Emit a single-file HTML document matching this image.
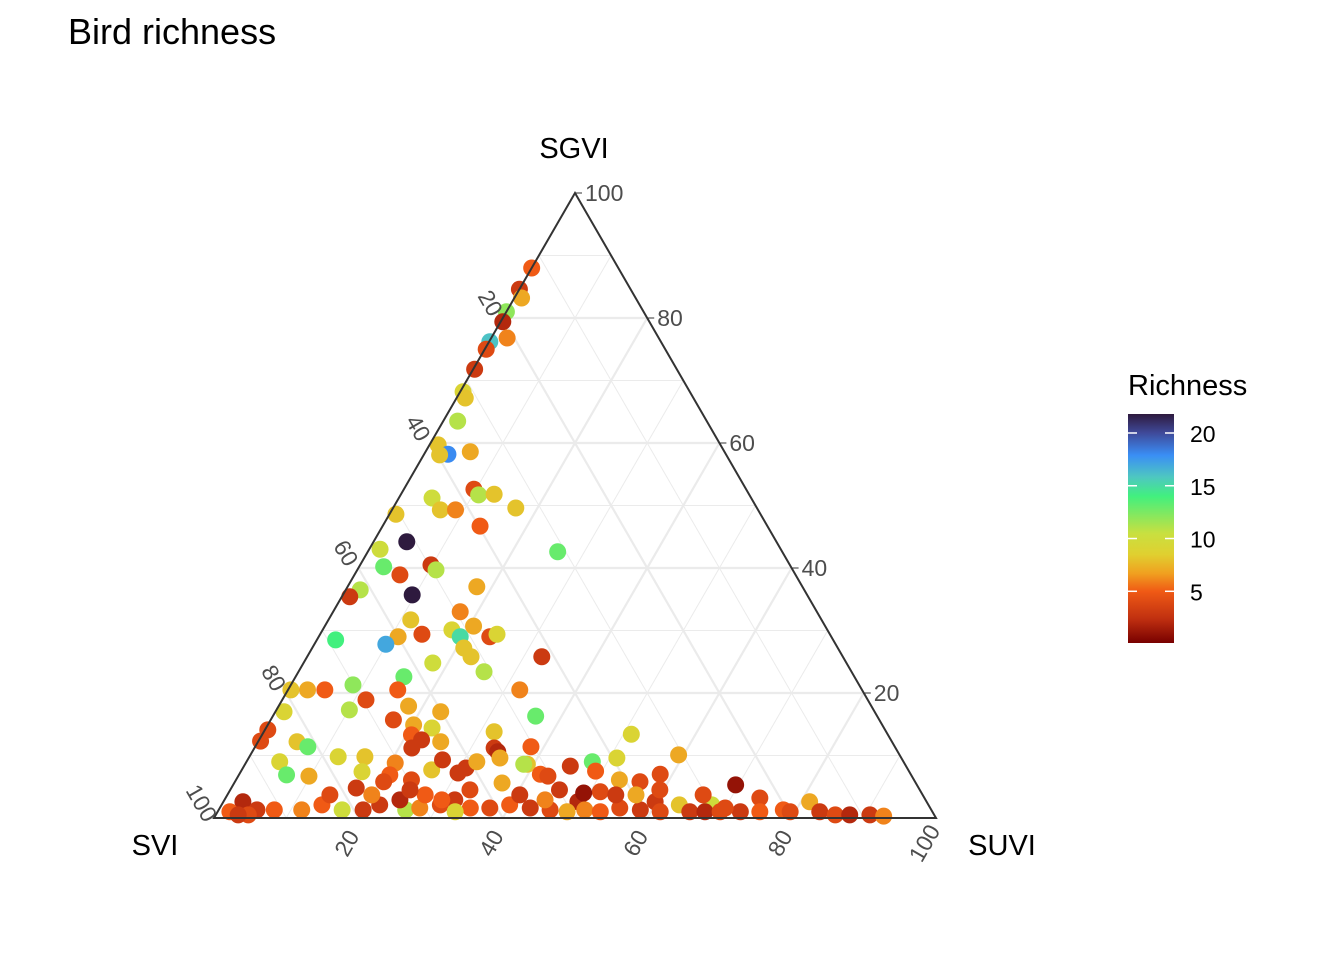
<!DOCTYPE html>
<html><head><meta charset="utf-8"><style>
body{margin:0;background:#fff;}
svg text{font-family:"Liberation Sans",Arial,sans-serif;}
</style></head><body>
<svg id="chart" width="1344" height="960" viewBox="0 0 1344 960" xmlns="http://www.w3.org/2000/svg">
<rect width="1344" height="960" fill="#fff"/>
<text x="68" y="44" font-size="36" fill="#000">Bird richness</text>
<g id="grid"></g>
<g id="pts"></g>
<g id="frame"></g>
<g id="legend"></g>
</svg>
<script>
// data: SGVI (%), SUVI (%), richness  (SVI = 100 - SGVI - SUVI)
const sgvi = [88,84.6,83.2,81,79.4,76.2,75,76.8,71.8,68.2,67.2,63.5,59.7,58.2,58.1,58.6,52.6,51.7,51.8,51.2,49.3,49.3,49.6,46.7,42.6,48.6,44.2,43,40.2,38.9,40.5,39.7,35.7,36.5,35.4,37,33,31.7,30.7,29,30.1,29,29.4,29,29.4,27.8,28.5,27.2,25.8,25.8,24.8,23.4,22.6,20.5,20.5,20.5,20.5,20.5,21.3,18.9,17.9,17.3,17,15.7,17,14.9,14.4,16.3,13.8,14.1,12.3,12.2,11.4,13.3,12.5,11.2,12.2,11.2,10.6,11.4,13.4,8.6,8.6,9,10.1,9,9.8,9.8,8.8,7.4,7.7,9.3,8,7.2,9,9.6,7,8.3,7.5,9.6,7,5.3,6.9,6.7,6.9,6.1,5.8,4.8,5.6,6.7,4.5,4.2,6.1,5.8,2.6,2.1,2.1,3.2,2.6,1.3,2.6,1.3,1.3,1.3,2.1,1.3,1.3,2.1,1.3,1.6,2.1,2.9,1.6,1.6,2.1,1.6,1.3,2.6,1.3,1,1.6,1.3,1,1,1,1,1,1,1,1,0.5,0.5,0.5,0.3,1,0.5,0.5,1,1,3.7,3.7,4,3.7,3.7,2.9,3.7,4.5,3.7,2.9,4.5,2.9,1.6,4.5,3.7];
const suvi = [0,0,1,0,0.3,0.1,0.2,2.2,0.2,0.4,1.2,2,1.2,3.3,2.2,6.2,9.7,10.8,12.9,4.6,6.7,8.8,17,13.5,26.3,0.9,4.6,1.5,3.4,6.3,9.8,10.9,9.6,2,1.1,17.9,17.6,11.4,20.6,11,17.9,19.6,14.1,23.7,24.5,9.9,2.6,21,22.7,32.5,17.9,25.7,15,15.2,32.1,0.4,2.7,5.1,8.6,11.6,18,10.1,1.2,17,22.9,20.2,23,36.4,31.9,0.4,0.3,5.4,7.3,20.7,22.5,21.8,25.3,33.2,34,38.2,51.1,39.1,38.6,47.9,59.3,4.6,12.3,16,20.7,16.8,26.3,27,30.9,30.2,31.9,34.8,41.7,45.2,49.1,51,58.3,69.6,6.6,9.8,20.9,24.3,20.6,17.3,37.1,42.9,45.6,51.4,53.1,56.1,59.8,63.4,67.9,74,81.2,78.2,2.7,5.3,7.7,11.5,13.9,17.1,20,21.9,25.9,27.7,30.3,31.9,34.7,37.4,39.9,43,45.9,49.1,50.7,53,55.4,58.4,61.3,65.4,67.5,69.6,72.4,75.1,79.3,83.4,85.8,87.8,90.6,92.6,1.7,4.5,3.1,32.9,48.4,14.2,20,49.2,53.8,56.6,24.3,27.4,33.2,40.5,44.4,59.5,30.1,70,24.9,65.9];
const richness = [5,3,7,12,2,16,4,6,3,9,8,11,8,18,8,7,4,11,8,10,8,6,8,5,13,8,22,10,13,4,3,11,22,11,3,7,6,8,7,7,9,15,4,4,9,17,14,8,8,3,10,11,13,5,6,8,7,5,12,4,7,11,9,4,7,7,9,13,8,4,4,8,13,5,3,3,7,3,2,5,9,8,11,13,7,9,9,8,6,9,8,3,3,3,7,7,5,3,5,9,4,1,13,7,5,4,4,3,7,4,3,4,7,4,3,8,10,4,7,5,2,3,5,6,5,10,3,3,11,6,4,3,5,4,5,3,4,2,6,5,4,3,4,3,2,4,3,5,4,3,4,2,3,6,5,4,3,9,7,4,6,1,3,7,2,5,4,3,6,4,5,4,3,4,5,3,4,6,3,5,4];
const ticks = [20,40,60,80,100];
const legendTicks = [5,10,15,20];

const L={x:214,y:818}, R={x:936,y:818}, T={x:575,y:193};
const W=R.x-L.x, H=L.y-T.y;
function px(g,u){const t=g/100,r=u/100;return {x:L.x+W*(r+t/2), y:L.y-H*t};}
const stops=[[0.1,'#780000'],[2.4,'#c03010'],[5,'#f05a15'],[6.7,'#f0a020'],[8.5,'#e0d030'],[10.5,'#c8e040'],[14,'#42f07e'],[15.8,'#4ec8c0'],[17.9,'#3a8ef5'],[20,'#3f4a9a'],[21.8,'#2e1a3e']];
function hex(c){return [1,3,5].map(i=>parseInt(c.substr(i,2),16));}
function col(v){
  if(v===undefined||isNaN(v))v=4;
  if(v<=stops[0][0])return stops[0][1];
  for(let i=1;i<stops.length;i++){if(v<=stops[i][0]){const a=stops[i-1],b=stops[i];const f=(v-a[0])/(b[0]-a[0]);const A=hex(a[1]),B=hex(b[1]);return 'rgb('+A.map((x,k)=>Math.round(x+(B[k]-x)*f)).join(',')+')';}}
  return stops[stops.length-1][1];
}
const NS='http://www.w3.org/2000/svg';
function mk(tag,attrs,parent){const e=document.createElementNS(NS,tag);for(const k in attrs)e.setAttribute(k,attrs[k]);parent.appendChild(e);return e;}
const grid=document.getElementById('grid');
for(let v=10;v<100;v+=10){
  const major=v%20===0;
  const st={stroke:'#ebebeb','stroke-width':major?2.2:1,fill:'none'};
  let a=px(v,0),b=px(v,100-v);
  let l=mk('line',Object.assign({x1:a.x,y1:a.y,x2:b.x,y2:b.y},st),grid);
  
  
  a=px(0,v);b=px(100-v,v);
  l=mk('line',Object.assign({x1:a.x,y1:a.y,x2:b.x,y2:b.y},st),grid);
  
  
  a=px(100-v,0);b=px(0,100-v);
  l=mk('line',Object.assign({x1:a.x,y1:a.y,x2:b.x,y2:b.y},st),grid);
  
  
}
const pts=document.getElementById('pts');
for(let i=0;i<sgvi.length;i++){
  const p=px(sgvi[i],suvi[i]);
  const c=mk('circle',{cx:p.x,cy:p.y,r:8.5,fill:col(richness[i])},pts);
  
  
}
const fr=document.getElementById('frame');
const tri=mk('polygon',{points:`${L.x},${L.y} ${R.x},${R.y} ${T.x},${T.y}`,fill:'none',stroke:'#333','stroke-width':2},fr);


ticks.forEach(v=>{
  let p=px(v,100-v);
  mk('line',{x1:p.x,y1:p.y,x2:p.x+7,y2:p.y,stroke:'#333','stroke-width':1},fr);
  let t=mk('text',{x:p.x+10,y:p.y+8,'font-size':23,fill:'#4d4d4d'},fr);
  t.textContent=v;
  
  
  p=px(100-v,0);
  const lx=p.x-14, ly=p.y-14;
  t=mk('text',{x:lx,y:ly,'font-size':23,fill:'#4d4d4d','text-anchor':'middle','dominant-baseline':'middle',transform:`rotate(60 ${lx} ${ly})`},fr);
  t.textContent=v;
  
  
  p=px(0,v);
  const bx=p.x-10, by=p.y+26;
  t=mk('text',{x:bx,y:by,'font-size':23,fill:'#4d4d4d','text-anchor':'middle','dominant-baseline':'middle',transform:`rotate(-60 ${bx} ${by})`},fr);
  t.textContent=v;
  
  
});
[['SGVI',574,158,'middle'],['SVI',155,855,'middle'],['SUVI',1002,855,'middle']].forEach(a=>{
  const t=mk('text',{x:a[1],y:a[2],'font-size':29,fill:'#000','text-anchor':a[3]},fr);
  t.textContent=a[0];
  
  
});
const lg=document.getElementById('legend');
const lt=mk('text',{x:1128,y:395,'font-size':29,fill:'#000'},lg);
lt.textContent='Richness';


const defs=mk('defs',{},lg);
const gr=mk('linearGradient',{id:'cb',x1:0,y1:1,x2:0,y2:0},defs);
const vLo=0.1,vHi=21.8, yTop=414, yBot=643;
stops.forEach(s=>mk('stop',{offset:(s[0]-vLo)/(vHi-vLo),'stop-color':s[1]},gr));
const bar=mk('rect',{x:1128,y:yTop,width:46,height:yBot-yTop,fill:'url(#cb)'},lg);


legendTicks.forEach(v=>{
  const y=yBot-(v-vLo)/(vHi-vLo)*(yBot-yTop);
  mk('line',{x1:1128,y1:y,x2:1137,y2:y,stroke:'#fff','stroke-width':1.5},lg);
  mk('line',{x1:1165,y1:y,x2:1174,y2:y,stroke:'#fff','stroke-width':1.5},lg);
  const t=mk('text',{x:1190,y:y+9,'font-size':23,fill:'#000'},lg);
  t.textContent=v;
  
  
});
</script>
</body></html>
